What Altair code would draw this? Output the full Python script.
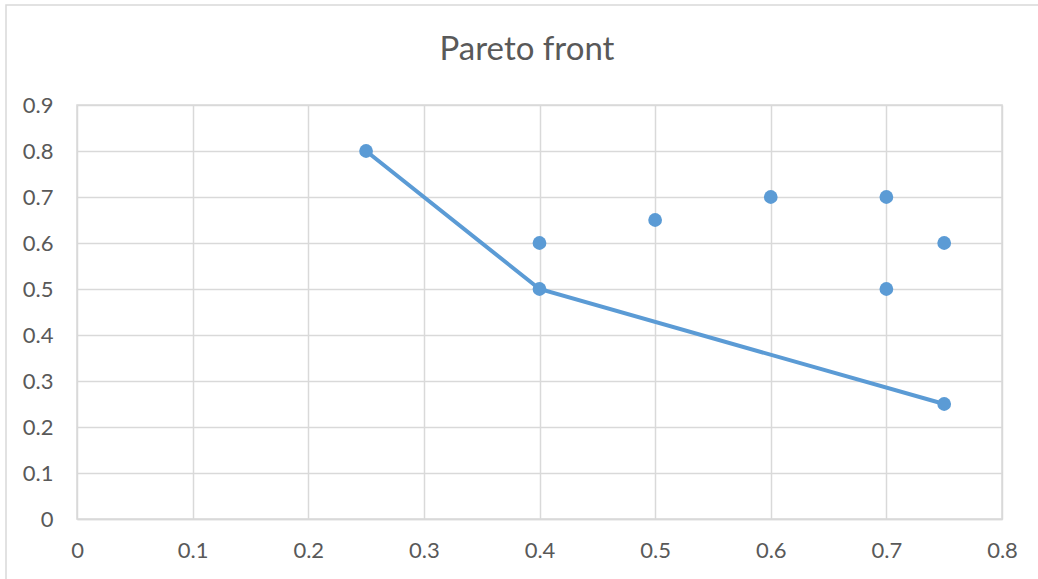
import altair as alt
import pandas as pd

# All candidate solutions (objective 1, objective 2)
all_x = [0.25, 0.4, 0.4, 0.5, 0.6, 0.7, 0.7, 0.75, 0.75]
all_y = [0.8, 0.6, 0.5, 0.65, 0.7, 0.7, 0.5, 0.6, 0.25]

# Non-dominated solutions joined into the front
front_x = [0.25, 0.4, 0.75]
front_y = [0.8, 0.5, 0.25]

x_ticks = [0, 0.1, 0.2, 0.3, 0.4, 0.5, 0.6, 0.7, 0.8]
y_ticks = [0, 0.1, 0.2, 0.3, 0.4, 0.5, 0.6, 0.7, 0.8, 0.9]

title_text = "Pareto front"

BLUE = "#5b9bd5"
GRID = "#d9d9d9"
TEXT = "#595959"
FONT = "Lato"

points = pd.DataFrame({"x": all_x, "y": all_y})
front = pd.DataFrame({"x": front_x, "y": front_y, "order": list(range(len(front_x)))})

x_scale = alt.Scale(domain=[0, 0.8], nice=False, zero=True)
y_scale = alt.Scale(domain=[0, 0.9], nice=False, zero=True)

x_axis = alt.Axis(
    values=x_ticks, title=None, grid=True, gridColor=GRID, gridWidth=1.5,
    ticks=False, domain=True, domainColor=GRID, domainWidth=1.5,
    labelFont=FONT, labelFontSize=22, labelColor=TEXT, labelPadding=21,
    labelFlush=False, labelOverlap=False,
    labelExpr="datum.value == 0 ? '0' : format(datum.value, '.1f')",
)
y_axis = alt.Axis(
    values=y_ticks, title=None, grid=True, gridColor=GRID, gridWidth=1.5,
    ticks=False, domain=False,
    labelFont=FONT, labelFontSize=22, labelColor=TEXT, labelPadding=24,
    labelFlush=False, labelOverlap=False,
    labelExpr="datum.value == 0 ? '0' : format(datum.value, '.1f')",
)

frame = alt.Chart(pd.DataFrame({"k": [0]})).mark_rect(
    fill=None, stroke=GRID, strokeWidth=1.5, clip=False
).encode(
    x=alt.value(-71), x2=alt.value(1200), y=alt.value(-100), y2=alt.value(700)
)

line = alt.Chart(front).mark_line(color=BLUE, strokeWidth=4).encode(
    x=alt.X("x:Q", scale=x_scale, axis=x_axis),
    y=alt.Y("y:Q", scale=y_scale, axis=y_axis),
    order="order:Q",
)

dots = alt.Chart(points).mark_circle(color=BLUE, opacity=1, size=190).encode(
    x=alt.X("x:Q", scale=x_scale),
    y=alt.Y("y:Q", scale=y_scale),
)

title = alt.Chart(pd.DataFrame({"t": [title_text]})).mark_text(
    font=FONT, fontSize=33, color=TEXT, align="center", baseline="alphabetic"
).encode(
    text="t:N", x=alt.value(450), y=alt.value(-45)
)

chart = alt.layer(frame, line, dots, title).properties(
    width=925, height=414,
    autosize=alt.AutoSizeParams(type="none"),
    padding={"left": 77, "top": 105, "right": 36, "bottom": 60},
    background="white",
).configure_view(stroke=GRID, strokeWidth=1.5)

chart.save("out.html", embed_options={"renderer": "svg", "actions": False})
